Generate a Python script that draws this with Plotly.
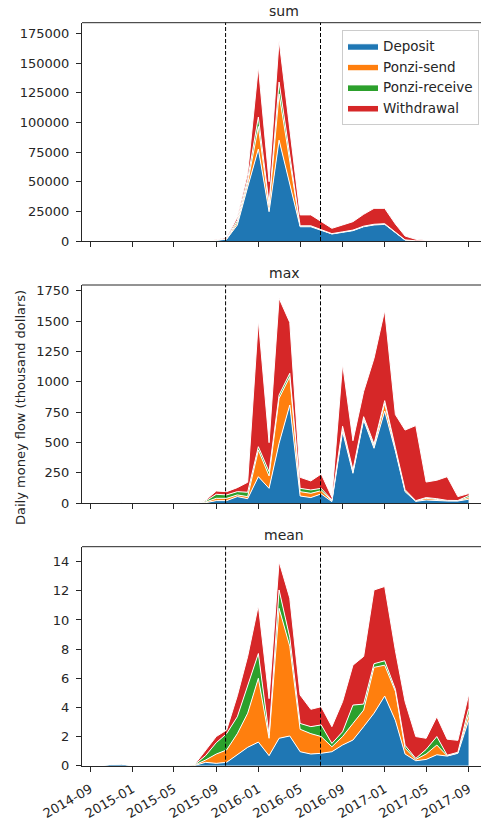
import plotly.graph_objects as go

# ---------------- data ----------------
months = ["2014-09", "2014-10", "2014-11", "2014-12", "2015-01", "2015-02", "2015-03",
          "2015-04", "2015-05", "2015-06", "2015-07", "2015-08", "2015-09", "2015-10",
          "2015-11", "2015-12", "2016-01", "2016-02", "2016-03", "2016-04", "2016-05",
          "2016-06", "2016-07", "2016-08", "2016-09", "2016-10", "2016-11", "2016-12",
          "2017-01", "2017-02", "2017-03", "2017-04", "2017-05", "2017-06", "2017-07",
          "2017-08", "2017-09"]

series_names = ["Deposit", "Ponzi-send", "Ponzi-receive", "Withdrawal"]
series_colors = ["#1f77b4", "#ff7f0e", "#2ca02c", "#d62728"]

sum_deposit = [0, 0, 50, 100, 0, 0, 0, 0, 0, 0, 50, 200, 600, 1500, 13500, 45500, 77500,
               24700, 85000, 48000, 12000, 12000, 9300, 5900, 7300, 8700, 12000, 13500,
               14000, 7000, 800, 150, 150, 200, 100, 100, 300]
sum_ponzi_send = [0, 0, 0, 0, 0, 0, 0, 0, 0, 0, 0, 50, 100, 200, 2000, 3500, 19000, 5000,
                  39000, 18000, 500, 500, 300, 200, 300, 300, 300, 400, 400, 200, 100, 0,
                  0, 0, 0, 0, 0]
sum_ponzi_receive = [0, 0, 0, 0, 0, 0, 0, 0, 0, 0, 0, 0, 50, 200, 2000, 3000, 8000, 2000,
                     10000, 5000, 300, 300, 200, 100, 100, 200, 200, 200, 200, 100, 50, 0,
                     0, 0, 0, 0, 0]
sum_withdrawal = [0, 0, 0, 0, 0, 0, 0, 0, 0, 0, 0, 50, 200, 1100, 2500, 5000, 42500, 18300,
                  35000, 24000, 9200, 9200, 6500, 4500, 5800, 7100, 10000, 13400, 12900,
                  7000, 3250, 1250, 400, 200, 150, 100, 200]

max_deposit = [0, 0, 3, 10, 0, 0, 0, 0, 0, 0, 2, 5, 22, 22, 55, 38, 219, 123, 494, 809, 60,
               47, 77, 14, 590, 247, 686, 453, 760, 430, 96, 16, 27, 22, 19, 19, 33]
max_ponzi_send = [0, 0, 0, 0, 0, 0, 0, 0, 0, 0, 0, 5, 19, 19, 14, 17, 220, 102, 370, 233,
                  36, 35, 27, 8, 30, 13, 13, 19, 63, 13, 8, 3, 14, 10, 3, 2, 15]
max_ponzi_receive = [0, 0, 0, 0, 0, 0, 0, 0, 0, 0, 0, 8, 33, 28, 27, 36, 27, 35, 27, 28,
                     27, 28, 19, 6, 14, 14, 14, 16, 22, 14, 8, 3, 6, 6, 2, 2, 15]
max_withdrawal = [0, 0, 0, 0, 0, 0, 0, 0, 0, 0, 0, 7, 27, 27, 33, 82, 1042, 239, 796, 419,
                  91, 74, 118, 22, 513, 241, 207, 705, 743, 273, 491, 618, 128, 152, 195,
                  32, 17]

mean_deposit = [0, 0, 0.1, 0.12, 0, 0, 0, 0, 0, 0, 0.02, 0.23, 0.16, 0.23, 0.73, 1.26, 1.62,
                0.69, 1.88, 2.04, 0.96, 0.8, 0.85, 0.96, 1.42, 1.76, 2.68, 3.6, 4.78, 3.1,
                0.8, 0.34, 0.43, 0.75, 0.66, 0.85, 3.1]
mean_ponzi_send = [0, 0, 0, 0, 0, 0, 0, 0, 0, 0, 0.03, 0.16, 0.64, 0.85, 1.47, 2.34, 4.38,
                   1.19, 8.92, 6.16, 1.54, 1.4, 1.15, 0.34, 0.58, 1.14, 1.14, 3.15, 2.12,
                   2.0, 0.4, 0.09, 0.37, 0.67, 0.02, 0.02, 0.4]
mean_ponzi_receive = [0, 0, 0, 0, 0, 0, 0, 0, 0, 0, 0.03, 0.3, 0.78, 1.12, 1.16, 1.9, 1.7,
                      0.22, 1.26, 0.6, 0.4, 0.48, 0.8, 0.23, 0.33, 1.26, 0.41, 0.25, 0.3,
                      0.14, 0.2, 0.07, 0.32, 0.58, 0.04, 0.05, 0.4]
mean_withdrawal = [0, 0, 0, 0, 0, 0, 0, 0, 0, 0, 0.02, 0.38, 0.42, 0.25, 1.44, 2.0, 3.3,
                   2.5, 1.94, 2.7, 1.95, 1.19, 1.25, 1.15, 2.07, 2.74, 3.27, 5.06, 5.1,
                   2.66, 3.0, 1.5, 0.76, 1.36, 1.1, 0.82, 0.95]

panel_titles = ["sum", "max", "mean"]
panel_data = [
    [sum_deposit, sum_ponzi_send, sum_ponzi_receive, sum_withdrawal],
    [max_deposit, max_ponzi_send, max_ponzi_receive, max_withdrawal],
    [mean_deposit, mean_ponzi_send, mean_ponzi_receive, mean_withdrawal],
]
y_ranges = [[0, 184000], [0, 1797], [0, 15.03]]
y_dticks = [25000, 250, 2]

tick_months = ["2014-09", "2015-01", "2015-05", "2015-09", "2016-01", "2016-05",
               "2016-09", "2017-01", "2017-05", "2017-09"]
event_dates = ["2015-09-28", "2016-06-29"]
y_label = "Daily money flow (thousand dollars)"

# ---------------- figure ----------------
W, H = 481, 820
L = 82
font_family = "DejaVu Sans"
ink = "#262626"
dates = [m + "-01" for m in months]

# pixel geometry of each panel (top, bottom)
panel_px = [(22.7, 241.0), (285.0, 503.3), (546.7, 765.7)]

fig = go.Figure()
for p, series in enumerate(panel_data):
    xa = "x" if p == 0 else f"x{p+1}"
    ya = "y" if p == 0 else f"y{p+1}"
    for name, color, vals in zip(series_names, series_colors, series):
        fig.add_trace(go.Scatter(
            x=dates, y=vals, name=name, mode="lines",
            stackgroup=panel_titles[p], fillcolor=color,
            line=dict(color="white", width=1),
            xaxis=xa, yaxis=ya, legendgroup=name, showlegend=(p == 0),
            hoverinfo="skip",
        ))

layout = dict(
    width=W, height=H,
    margin=dict(l=L, r=0, t=0, b=0),
    paper_bgcolor="white", plot_bgcolor="white",
    font=dict(family=font_family, size=13, color=ink),
    showlegend=True,
    legend=dict(
        x=(479 - L) / (W - L), xanchor="right",
        y=1 - 29.5 / H, yanchor="top",
        bgcolor="rgba(255,255,255,0.8)", bordercolor="#cccccc", borderwidth=1,
        font=dict(family=font_family, size=13.5, color=ink),
        traceorder="normal",
    ),
)

shapes = []
annotations = []
for p in range(3):
    top, bot = panel_px[p]
    dom = [1 - bot / H, 1 - top / H]
    xk = "xaxis" if p == 0 else f"xaxis{p+1}"
    yk = "yaxis" if p == 0 else f"yaxis{p+1}"
    xa = "x" if p == 0 else f"x{p+1}"
    ya = "y" if p == 0 else f"y{p+1}"
    layout[xk] = dict(
        type="date", range=["2014-08-08", "2017-10-07"],
        domain=[0, 1], anchor=ya,
        tickvals=[m + "-01" for m in tick_months],
        ticktext=tick_months,
        showticklabels=(p == 2), tickangle=-30,
        ticks="outside", ticklen=5, tickwidth=1, tickcolor=ink,
        showline=True, linecolor=ink, linewidth=1,
        showgrid=False, zeroline=False, automargin=False,
        tickfont=dict(family=font_family, size=13, color=ink),
        ticklabelstandoff=5,
    )
    if p < 2:
        layout[xk]["matches"] = "x3"
    layout[yk] = dict(
        domain=dom, anchor=xa, range=y_ranges[p], dtick=y_dticks[p], tick0=0,
        tickformat="d",
        ticks="outside", ticklen=5, tickwidth=1, tickcolor=ink,
        showline=True, linecolor=ink, linewidth=1,
        showgrid=False, zeroline=False, automargin=False,
        tickfont=dict(family=font_family, size=13, color=ink),
        ticklabelstandoff=4,
    )
    # top spine
    shapes.append(dict(type="line", xref=f"{xa} domain", yref=f"{ya} domain",
                       x0=0, x1=1, y0=1, y1=1, line=dict(color=ink, width=1)))
    # event lines
    for d in event_dates:
        shapes.append(dict(type="line", xref=xa, yref=f"{ya} domain",
                           x0=d, x1=d, y0=0, y1=1,
                           line=dict(color="black", width=1, dash="4px,2px")))
    # panel title
    annotations.append(dict(text=panel_titles[p], xref="paper", yref="paper",
                            x=(284 - L) / (W - L), y=1 - (top - 11.5) / H,
                            xanchor="center", yanchor="middle", showarrow=False,
                            font=dict(family=font_family, size=14, color=ink)))

annotations.append(dict(text=y_label, xref="paper", yref="paper",
                        x=(20 - L) / (W - L), y=1 - 408 / H, textangle=-90,
                        xanchor="center", yanchor="middle", showarrow=False,
                        font=dict(family=font_family, size=13, color=ink)))

layout["shapes"] = shapes
layout["annotations"] = annotations
fig.update_layout(**layout)

fig.write_html(
    "out.html",
    config={"displayModeBar": False},
    post_script="document.body.style.margin='0';document.body.style.padding='0';",
)
